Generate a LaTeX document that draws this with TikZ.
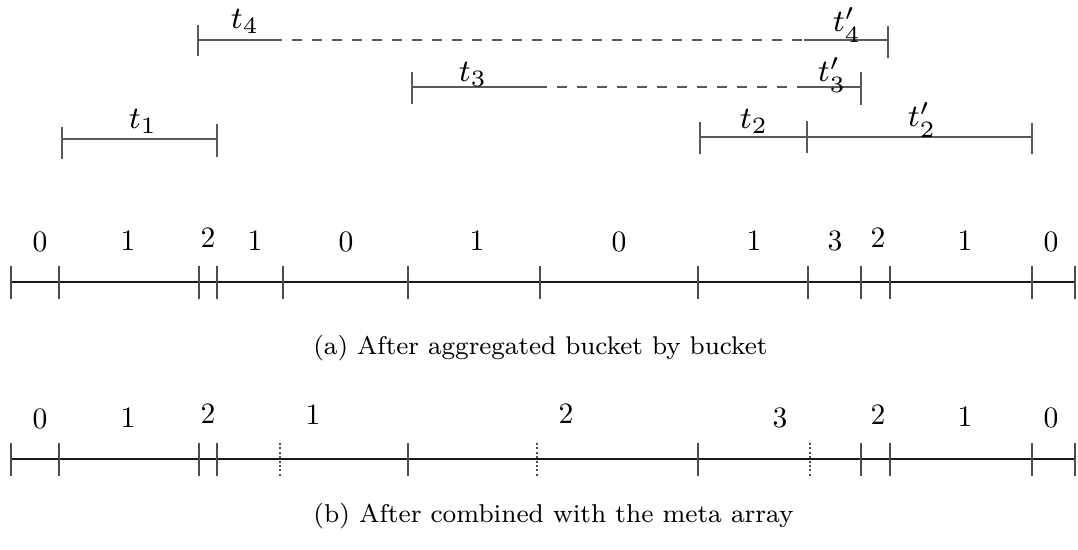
\documentclass[tikz,border=0pt]{standalone}
\usepackage{fontspec}
\usetikzlibrary{calc}
\newcommand{\tmath}[1]{\scalebox{1.95}{\fontsize{8}{9}\selectfont$#1$}}
\newcommand{\dig}[1]{\scalebox{1.48}{\fontsize{10}{12}\selectfont #1}}
\begin{document}
\begin{tikzpicture}[x=0.5pt,y=-0.5pt,
  iv/.style={black!65,line width=0.75pt},
  ivdash/.style={iv,dash pattern=on 5pt off 5pt},
  bar/.style={black!90,line width=1.2pt},
  tickmark/.style={black!70,line width=0.7pt},
  dottick/.style={black!70,line width=0.7pt,dash pattern=on 1pt off 1.2pt},
  tlab/.style={anchor=base,inner sep=0pt},
  dlab/.style={anchor=base,inner sep=0pt},
  captext/.style={anchor=base west,inner sep=0pt}]
\useasboundingbox (0,0) rectangle (1078,550);

% ---- top intervals ----
% t4
\coordinate (t4s) at (198,40);
\coordinate (t4a) at (272,40);
\coordinate (t4b) at (804,40);
\coordinate (t4e) at (888,40);
\draw[iv] (t4s) -- (t4a);
\draw[ivdash] (t4a) -- (t4b);
\draw[iv] (t4b) -- (t4e);
\draw[iv] (t4s) ++(0,-15) -- ++(0,31);
\draw[iv] (t4e) ++(0,-14) -- ++(0,32);
\node[tlab] (lt4) at (245,29) {\tmath{t_4}};
\node[tlab] (lt4p) at (847,32) {\tmath{t'_4}};
% t3
\coordinate (t3s) at (412,87);
\coordinate (t3a) at (537,87);
\coordinate (t3b) at (800,87);
\coordinate (t3e) at (861,87);
\draw[iv] (t3s) -- (t3a);
\draw[ivdash] (t3a) -- (t3b);
\draw[iv] (t3b) -- (t3e);
\draw[iv] (t3s) ++(0,-15) -- ++(0,32);
\draw[iv] (t3e) ++(0,-15) -- ++(0,33);
\node[tlab] (lt3) at (473,82) {\tmath{t_3}};
\node[tlab] (lt3p) at (832,82) {\tmath{t'_3}};
% t1
\coordinate (t1s) at (62,139);
\coordinate (t1e) at (217,139);
\draw[iv] (t1s) -- (t1e);
\draw[iv] (t1s) ++(0,-12) -- ++(0,32);
\draw[iv] (t1e) ++(0,-15) -- ++(0,33);
\node[tlab] (lt1) at (143,129) {\tmath{t_1}};
% t2
\coordinate (t2s) at (700,137);
\coordinate (t2m) at (807,137);
\coordinate (t2e) at (1032,137);
\draw[iv] (t2s) -- (t2m) -- (t2e);
\draw[iv] (t2s) ++(0,-15) -- ++(0,32);
\draw[iv] (t2m) ++(0,-16) -- ++(0,32);
\draw[iv] (t2e) ++(0,-14) -- ++(0,31);
\node[tlab] (lt2) at (754,129) {\tmath{t_2}};
\node[tlab] (lt2p) at (922,127) {\tmath{t'_2}};

% ---- bar (a) ----
\foreach \x [count=\i] in {11,59,199,217,283,408,540,698,808,861,890,1032,1075}
  \coordinate (a\i) at (\x,282);
\draw[bar] (a1) -- (a13);
\foreach \i in {1,...,13}
  \draw[tickmark] (a\i) ++(0,-16) -- ++(0,33);
\foreach \x/\y/\t [count=\i] in {40/252/0,128/251/1,208/248/2,255/251/1,346/252/0,477/251/1,
    619/252/0,754/251/1,835/251/3,878/248/2,965/251/1,1051/252/0}
  \node[dlab] (la\i) at (\x,\y) {\dig{\t}};
\node[captext] (capa) at (313,355) {\resizebox{227pt}{!}{\fontsize{8}{9}\selectfont (a) After aggregated bucket by bucket}};

% ---- bar (b) ----
\foreach \x [count=\i] in {11,59,199,217,408,698,861,890,1032,1075}
  \coordinate (b\i) at (\x,459);
\foreach \x [count=\i] in {280,537,810}
  \coordinate (bd\i) at (\x,459);
\draw[bar] (b1) -- (b10);
\foreach \i in {1,...,10}
  \draw[tickmark] (b\i) ++(0,-16) -- ++(0,33);
\foreach \i in {1,2,3}
  \draw[dottick] (bd\i) ++(0,-16) -- ++(0,33);
\foreach \x/\y/\t [count=\i] in {40/429/0,128/428/1,208/424/2,313/425/1,566/424/2,
    780/428/3,878/425/2,965/427/1,1051/428/0}
  \node[dlab] (lb\i) at (\x,\y) {\dig{\t}};
\node[captext] (capb) at (313,523) {\resizebox{240pt}{!}{\fontsize{8}{9}\selectfont (b) After combined with the meta array}};
\end{tikzpicture}
\end{document}
